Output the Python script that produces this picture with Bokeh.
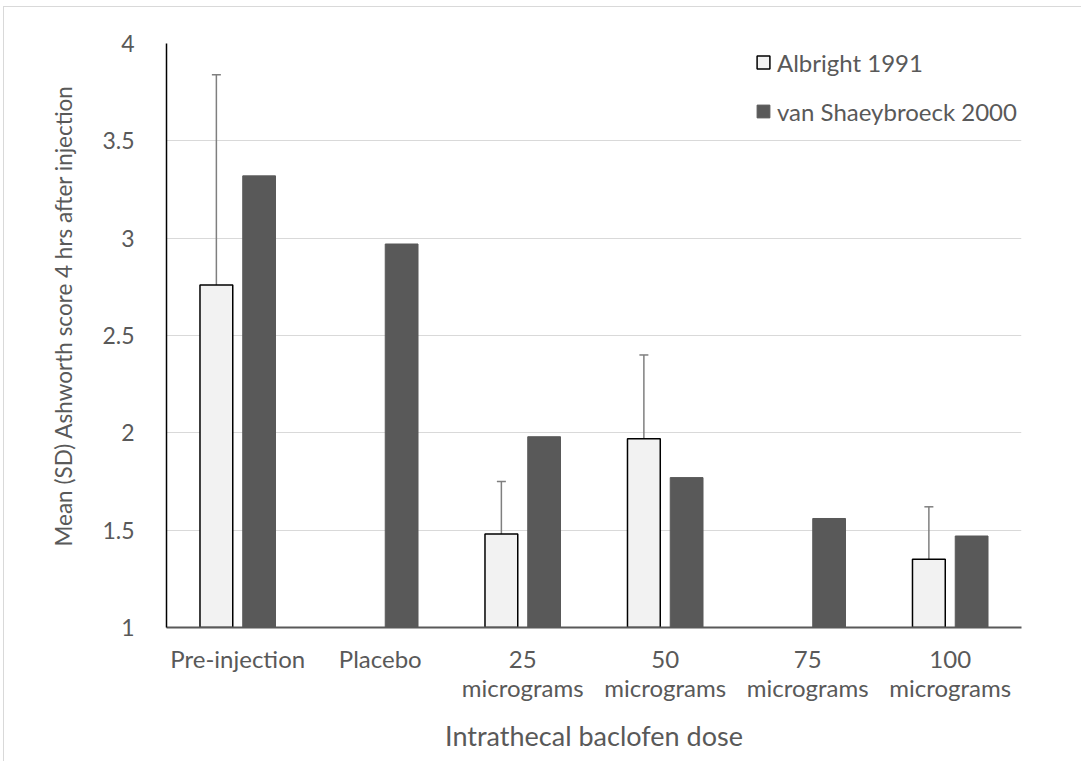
from bokeh.plotting import figure
from bokeh.models import (ColumnDataSource, FactorRange, FixedTicker, CustomJSTickFormatter,
                          Whisker, TeeHead, Legend, LegendItem, CategoricalAxis, Title)
from bokeh.transform import dodge
from bokeh.embed import file_html
from bokeh.resources import INLINE

categories = ["Pre-injection", "Placebo", "25 micrograms", "50 micrograms",
              "75 micrograms", "100 micrograms"]
label_line1 = ["Pre-injection", "Placebo", "25", "50", "75", "100"]
label_line2 = ["", "", "micrograms", "micrograms", "micrograms", "micrograms"]
albright_cats = ["Pre-injection", "25 micrograms", "50 micrograms", "100 micrograms"]
albright_mean = [2.76, 1.48, 1.97, 1.35]
albright_upper = [3.84, 1.75, 2.40, 1.62]
van_mean = [3.32, 2.97, 1.98, 1.77, 1.56, 1.47]
y_ticks = [1, 1.5, 2, 2.5, 3, 3.5, 4]

FONT = "Lato"
TXT = "#595959"

p = figure(x_range=FactorRange(*categories), y_range=(1, 4), width=1078, height=755,
           output_backend="svg", toolbar_location=None, x_axis_location=None,
           min_border_left=162, min_border_top=36, min_border_right=61, min_border_bottom=135)
p.margin = (6, 0, 0, 3)
p.outline_line_color = None
p.styles = {"border-top": "1px solid #d9d9d9", "border-left": "1px solid #d9d9d9"}

src_a = ColumnDataSource(dict(cat=albright_cats, top=albright_mean, upper=albright_upper))
src_v = ColumnDataSource(dict(cat=categories, top=van_mean))

ra = p.vbar(x=dodge("cat", -0.15, range=p.x_range), top="top", bottom=1, width=0.23,
            source=src_a, fill_color="#f2f2f2", line_color="black", line_width=1.5)
rv = p.vbar(x=dodge("cat", 0.15, range=p.x_range), top="top", bottom=1, width=0.23,
            source=src_v, fill_color="#595959", line_color="#595959")

w = Whisker(base=dodge("cat", -0.15, range=p.x_range), upper="upper", lower="top",
            source=src_a, line_color="#7f7f7f", line_width=1.5,
            upper_head=TeeHead(size=9, line_color="#7f7f7f", line_width=1.5), lower_head=None)
p.add_layout(w)

p.xgrid.grid_line_color = None
p.ygrid.grid_line_color = "#d9d9d9"
p.ygrid.grid_line_width = 1

LABEL_JS = "const i = cats.indexOf(tick); return i >= 0 ? labels[i] : tick;"
xa1 = CategoricalAxis(formatter=CustomJSTickFormatter(
    args=dict(cats=categories, labels=label_line1), code=LABEL_JS))
xa2 = CategoricalAxis(formatter=CustomJSTickFormatter(
    args=dict(cats=categories, labels=label_line2), code=LABEL_JS),
    axis_label="Intrathecal baclofen dose")
for ax in (xa1, xa2):
    ax.major_tick_line_color = None
    ax.minor_tick_line_color = None
    ax.major_label_text_font = FONT
    ax.major_label_text_color = TXT
    ax.major_label_text_font_size = "24px"
    ax.axis_label_text_font = FONT
    ax.axis_label_text_color = TXT
    ax.axis_label_text_font_style = "normal"
    ax.axis_label_text_font_size = "27px"
xa1.axis_line_color = "#595959"
xa1.axis_line_width = 2
xa1.major_label_standoff = 10
xa2.axis_line_color = None
xa2.major_label_standoff = -9
xa2.axis_label_standoff = 14
p.add_layout(xa1, "below")
p.add_layout(xa2, "below")

ya = p.yaxis[0]
ya.ticker = FixedTicker(ticks=y_ticks)
ya.formatter = CustomJSTickFormatter(code="return tick.toString()")
ya.major_tick_line_color = None
ya.minor_tick_line_color = None
ya.major_label_text_font = FONT
ya.major_label_text_color = TXT
ya.major_label_text_font_size = "23px"
ya.major_label_standoff = 26
ya.axis_line_color = "black"
ya.axis_line_width = 1.5

ytitle = Title(text="Mean (SD) Ashworth score 4 hrs after injection", align="left",
               text_font=FONT, text_font_size="22.5px", text_font_style="normal",
               text_color=TXT, standoff=45, offset=81)
p.add_layout(ytitle, "left")

legend = Legend(items=[LegendItem(label="Albright 1991", renderers=[ra]),
                       LegendItem(label="van Shaeybroeck 2000", renderers=[rv])],
                location=(589, 501), label_text_font=FONT, label_text_font_size="24px",
                label_text_color=TXT, glyph_width=16, glyph_height=16, label_height=30,
                label_standoff=6, spacing=19,
                background_fill_alpha=0, border_line_color=None, margin=0, padding=0)
p.add_layout(legend)

open("out.html", "w").write(file_html(p, INLINE))
